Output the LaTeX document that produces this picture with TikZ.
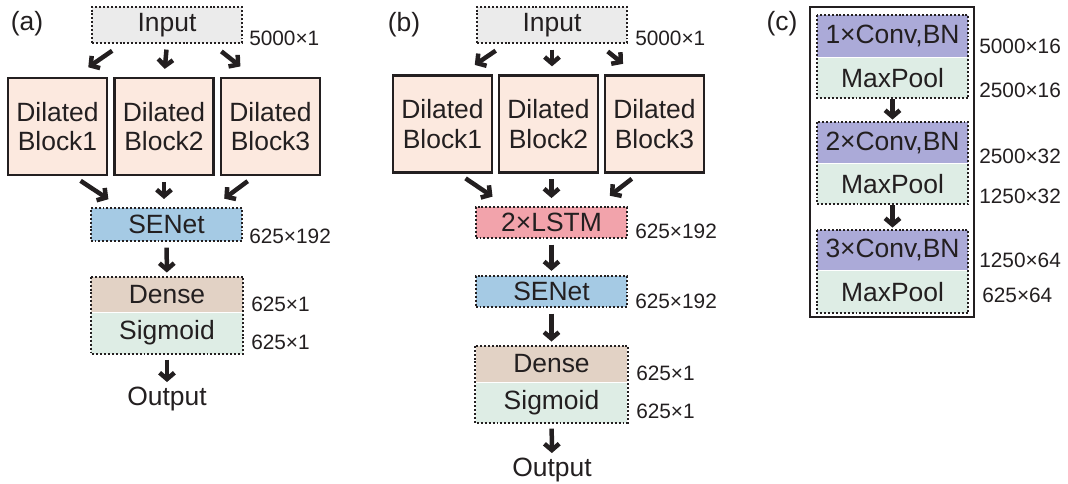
\documentclass[tikz,border=0pt]{standalone}
\usepackage{fontspec}
\setmainfont{Liberation Sans}
\usetikzlibrary{arrows.meta,positioning}
\definecolor{ink}{HTML}{231F20}
\definecolor{ingray}{HTML}{EBEBEB}
\definecolor{blkfill}{HTML}{FCE9DF}
\definecolor{sefill}{HTML}{A5CAE4}
\definecolor{lstmfill}{HTML}{F2A3AB}
\definecolor{dnfill}{HTML}{E2D2C5}
\definecolor{sgfill}{HTML}{DEEDE5}
\definecolor{cvfill}{HTML}{ABAAD8}
\begin{document}
\begin{tikzpicture}[x=0.025cm,y=-0.025cm,
  txt/.style={text=ink,font=\fontsize{18.8pt}{21pt}\selectfont,inner sep=0pt},
  dim/.style={text=ink,font=\fontsize{14.8pt}{16pt}\selectfont,inner sep=0pt,anchor=base west},
  dots/.style={draw=ink,line width=1.4pt,dash pattern=on 1.4pt off 1.4pt},
  dotbox/.style={txt,dots,minimum width=108pt},
  layer/.style={txt,minimum width=108pt},
  blk/.style={txt,draw=ink,line width=1.6pt,fill=blkfill,align=center,
    minimum width=70.4pt,minimum height=69pt},
  arr/.style={draw=ink,line width=3.2pt,-{Straight Barb[length=4.5pt,width=10.5pt]},
    shorten <=4pt,shorten >=3pt}]
\useasboundingbox (0,0) rectangle (1068,483);

% (a)
\node[txt] (labA) at (27,24) {(a)};
\node[dotbox,fill=ingray,minimum width=106.7pt,minimum height=25.6pt] (inA) at (167,25) {Input};
\node[dim] at (249,45) {5000×1};
\node[blk] (blkA1) at (57.5,126.5) {Dilated\\Block1};
\node[blk] (blkA2) at (164,126.5) {Dilated\\Block2};
\node[blk] (blkA3) at (270.5,126.5) {Dilated\\Block3};
\node[dotbox,fill=sefill,minimum height=23.5pt] (seA) at (166.5,224.5) {SENet};
\node[dim] at (249,243) {625×192};
\node[layer,fill=dnfill,minimum height=24.9pt] (dnA) at (167,294.5) {Dense};
\node[layer,fill=sgfill,minimum height=29.2pt,below=0pt of dnA] (sgA) {Sigmoid};
\draw[dots] (dnA.north west) rectangle (sgA.south east);
\node[dim] at (251,311) {625×1};
\node[dim] at (251,349) {625×1};
\node[txt,anchor=base] (outA) at (167,405) {Output};
\draw[arr,shorten <=8.5pt,shorten >=12pt] ([xshift=-32pt]inA.south) -- ([xshift=12pt]blkA1.north);
\draw[arr,shorten >=5.7pt] (inA.south) -- (blkA2.north);
\draw[arr,shorten <=8.5pt,shorten >=12pt] ([xshift=32pt]inA.south) -- ([xshift=-12pt]blkA3.north);
\draw[arr,shorten <=6pt,shorten >=10pt] ([xshift=11.4pt]blkA1.south) -- ([xshift=-33pt]seA.north);
\draw[arr,shorten >=5.7pt] (blkA2.south) -- (blkA2.south |- seA.north);
\draw[arr,shorten <=6pt,shorten >=10pt] ([xshift=-11.4pt]blkA3.south) -- ([xshift=33pt]seA.north);
\draw[arr] (seA) -- (dnA);
\draw[arr] (sgA) -- (outA);

% (b)
\node[txt] (labB) at (404,25) {(b)};
\node[dotbox,fill=ingray,minimum width=106.7pt,minimum height=25.6pt] (inB) at (552,25) {Input};
\node[dim] at (635,45) {5000×1};
\node[blk] (blkB1) at (442.5,124) {Dilated\\Block1};
\node[blk] (blkB2) at (548.5,124) {Dilated\\Block2};
\node[blk] (blkB3) at (654.5,124) {Dilated\\Block3};
\node[dotbox,fill=lstmfill,minimum height=22pt] (lstmB) at (551.5,222.5) {2×LSTM};
\node[dim] at (635,238) {625×192};
\node[dotbox,fill=sefill,minimum height=22pt] (seB) at (551.5,291.5) {SENet};
\node[dim] at (635,308) {625×192};
\node[layer,fill=dnfill,minimum height=25.6pt] (dnB) at (551.5,364) {Dense};
\node[layer,fill=sgfill,minimum height=28.5pt,below=0pt of dnB] (sgB) {Sigmoid};
\draw[dots] (dnB.north west) rectangle (sgB.south east);
\node[dim] at (636,380) {625×1};
\node[dim] at (636,418) {625×1};
\node[txt,anchor=base] (outB) at (552,476) {Output};
\draw[arr,shorten <=8.5pt,shorten >=12pt] ([xshift=-33pt]inB.south) -- ([xshift=13pt]blkB1.north);
\draw[arr,shorten >=5.7pt] (inB.south) -- (inB.south |- blkB2.north);
\draw[arr,shorten <=8.5pt,shorten >=12pt] ([xshift=33pt]inB.south) -- ([xshift=-13pt]blkB3.north);
\draw[arr,shorten <=6pt,shorten >=12pt] ([xshift=11.4pt]blkB1.south) -- ([xshift=-32pt]lstmB.north);
\draw[arr,shorten >=5.7pt] (lstmB.north |- blkB2.south) -- (lstmB.north);
\draw[arr,shorten <=6pt,shorten >=12pt] ([xshift=-11.4pt]blkB3.south) -- ([xshift=32pt]lstmB.north);
\draw[arr] (lstmB) -- (seB);
\draw[arr] (seB) -- (dnB);
\draw[arr] (sgB) -- (outB);

% (c)
\node[txt] (labC) at (782,24) {(c)};
\draw[draw=ink,line width=2.1pt] (810,7) rectangle (974,317);
\node[layer,fill=cvfill,minimum width=107.4pt,minimum height=29.9pt] (cv1) at (892.5,36) {1×Conv,BN};
\node[layer,fill=sgfill,minimum width=107.4pt,minimum height=28.5pt,below=0pt of cv1] (mp1) {MaxPool};
\node[layer,fill=cvfill,minimum width=107.4pt,minimum height=29.2pt] (cv2) at (892.5,142.5) {2×Conv,BN};
\node[layer,fill=sgfill,minimum width=107.4pt,minimum height=28.5pt,below=0pt of cv2] (mp2) {MaxPool};
\node[layer,fill=cvfill,minimum width=107.4pt,minimum height=28.5pt] (cv3) at (892.5,250) {3×Conv,BN};
\node[layer,fill=sgfill,minimum width=107.4pt,minimum height=29.9pt,below=0pt of cv3] (mp3) {MaxPool};
\draw[dots] (cv1.north west) rectangle (mp1.south east);
\draw[dots] (cv2.north west) rectangle (mp2.south east);
\draw[dots] (cv3.north west) rectangle (mp3.south east);
\node[dim] at (979,53) {5000×16};
\node[dim] at (979,97) {2500×16};
\node[dim] at (979,163) {2500×32};
\node[dim] at (979,203) {1250×32};
\node[dim] at (979,267) {1250×64};
\node[dim] at (982,302) {625×64};
\draw[arr,shorten <=1pt,shorten >=1.5pt] (mp1) -- (cv2);
\draw[arr,shorten <=1pt,shorten >=1.5pt] (mp2) -- (cv3);
\end{tikzpicture}
\end{document}
